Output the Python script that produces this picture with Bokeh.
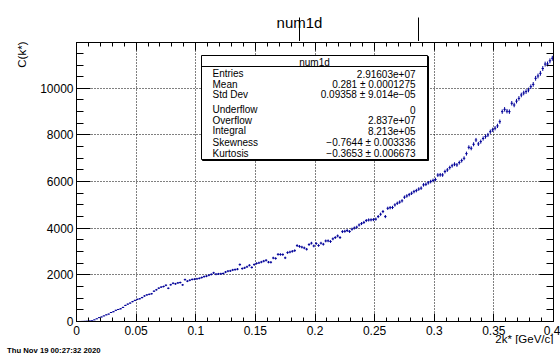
import numpy as np
from bokeh.plotting import figure
from bokeh.layouts import column
from bokeh.models import (ColumnDataSource, Range1d, LinearAxis, FixedTicker, Grid,
                          Label, BoxAnnotation, Arrow, Title)
from bokeh.core.properties import value
from bokeh.embed import file_html
from bokeh.resources import INLINE

# ---------------- data ----------------
x_min, x_max = 0.0, 0.4
n_bins = 200
counts = [
    0, 2, 5, 10, 16, 24, 32, 70, 115, 165,
    195, 240, 285, 318, 385, 420, 480, 515, 545, 605,
    690, 745, 790, 852, 905, 950, 975, 1025, 1095, 1140,
    1165, 1190, 1300, 1360, 1430, 1475, 1500, 1555, 1425, 1575,
    1640, 1615, 1655, 1670, 1570, 1795, 1730, 1770, 1805, 1815,
    1830, 1850, 1885, 1925, 1945, 1985, 2020, 2085, 2030, 2040,
    2045, 2058, 2120, 2160, 2170, 2210, 2225, 2245, 2440, 2270,
    2300, 2345, 2410, 2320, 2440, 2490, 2515, 2550, 2590, 2625,
    2545, 2540, 2725, 2705, 2880, 2875, 2870, 2730, 2955, 2980,
    3010, 3040, 3255, 3220, 3190, 3155, 3100, 3300, 3360, 3240,
    3345, 3260, 3360, 3315, 3455, 3460, 3430, 3545, 3600, 3670,
    3600, 3855, 3870, 3900, 3860, 3960, 4010, 4045, 4140, 4200,
    4250, 4330, 4355, 4360, 4370, 4390, 4500, 4600, 4715, 4500,
    4855, 4880, 4890, 5000, 5070, 5120, 5175, 5330, 5385, 5440,
    5500, 5570, 5615, 5680, 5720, 5860, 5885, 5950, 6000, 6050,
    6090, 6280, 6290, 6285, 6430, 6500, 6600, 6680, 6745, 6715,
    6815, 6900, 7000, 7200, 7470, 7430, 7600, 7785, 7615, 7715,
    7850, 7930, 8000, 8140, 8220, 8290, 8390, 8570, 9000, 9100,
    9020, 9000, 9360, 9285, 9450, 9570, 9715, 9800, 9860, 9930,
    10070, 10170, 10430, 10530, 10645, 10850, 11040, 11045, 11180, 11290,
]
y_top = 11966

x_ticks = [0.0, 0.05, 0.1, 0.15, 0.2, 0.25, 0.3, 0.35, 0.4]
x_tick_labels = ["0", "0.05", "0.1", "0.15", "0.2", "0.25", "0.3", "0.35", "0.4"]
x_minor = [round(i * 0.01, 3) for i in range(41)]
y_ticks = [0, 2000, 4000, 6000, 8000, 10000]
y_tick_labels = ["0", "2000", "4000", "6000", "8000", "10000"]
y_minor = [i * 500 for i in range(24)]

title_text = "num1d"
x_title = "2k* [GeV/c]"
y_title = "C(k*)"
date_text = "Thu Nov 19 00:27:32 2020"

stat_header = "num1d"
stat_names = ["Entries", "Mean", "Std Dev", "Underflow", "Overflow", "Integral",
              "Skewness", "Kurtosis"]
stat_values = ["2.91603e+07", "0.281 \u00b1 0.0001275", "0.09358 \u00b1 9.014e\u221205",
               "0", "2.837e+07", "8.213e+05", "\u22120.7644 \u00b1 0.003336",
               "\u22120.3653 \u00b1 0.006673"]

# ---------------- build ----------------
FONT = "Liberation Sans"
COL = "#000099"
W = 560

edges = np.linspace(x_min, x_max, n_bins + 1)
cnt = np.array(counts, dtype=float)
err = np.sqrt(cnt)
src = ColumnDataSource(dict(lo=edges[:-1], hi=edges[1:], xc=0.5 * (edges[:-1] + edges[1:]),
                            y=cnt, ylo=cnt - err, yhi=cnt + err))

# ---- top strip: title and the two marker lines (page-pixel coordinates) ----
top = figure(width=W, height=41, x_range=Range1d(0, W), y_range=Range1d(41, 0),
             output_backend="svg", toolbar_location=None, x_axis_type=None, y_axis_type=None,
             min_border=0)
top.frame_align = False
top.outline_line_color = None
top.text(x=[299], y=[22], text=[title_text], text_font=value(FONT), text_font_size="15px",
         text_align="center", text_baseline="middle", text_color="black")
top.segment(x0=[299, 418], y0=[17, 17], x1=[299, 418], y1=[41, 41],
            line_color="black", line_width=1)

# ---- main plot ----
p = figure(width=W, height=303, x_range=Range1d(x_min, x_max), y_range=Range1d(0, y_top),
           output_backend="svg", toolbar_location=None,
           x_axis_type=None, y_axis_type=None,
           min_border_left=76, min_border_right=7, min_border_top=1, min_border_bottom=23)
p.frame_align = False
p.background_fill_color = "white"
p.border_fill_color = "white"
p.outline_line_color = "black"


def base_axis(ticks, minor):
    ax = LinearAxis(ticker=FixedTicker(ticks=ticks, minor_ticks=minor))
    ax.axis_line_color = "black"
    ax.major_tick_line_color = "black"
    ax.minor_tick_line_color = "black"
    ax.major_tick_out = 0
    ax.minor_tick_out = 0
    return ax


def label_axis(ticks, minor, labels, tin, minin, standoff):
    ax = base_axis(ticks, minor)
    ax.major_tick_in = tin
    ax.minor_tick_in = minin
    ax.major_label_overrides = {t: l for t, l in zip(ticks, labels)}
    ax.major_label_text_font = FONT
    ax.major_label_text_font_size = "12px"
    ax.major_label_text_color = "black"
    ax.major_label_standoff = standoff
    return ax


def bare_axes(ticks, minor, tin, minin):
    # two unlabeled axes: short ticks at minor positions, long ticks at major positions
    a1 = base_axis([], minor)
    a1.minor_tick_in = minin
    a1.major_label_standoff = 0
    a2 = base_axis([], ticks)
    a2.minor_tick_in = tin
    a2.major_label_standoff = 0
    return a1, a2


p.add_layout(label_axis(x_ticks, x_minor, x_tick_labels, 8, 4, 4), "below")
p.add_layout(label_axis(y_ticks, y_minor, y_tick_labels, 14, 7, 3), "left")
for a in bare_axes(x_ticks, x_minor, 8, 4):
    p.add_layout(a, "above")
for a in bare_axes(y_ticks, y_minor, 14, 7):
    p.add_layout(a, "right")

p.add_layout(Title(text=y_title, align="right", vertical_align="middle", offset=-1,
                   standoff=17, text_font=FONT, text_font_size="11.5px",
                   text_font_style="normal", text_color="black"), "left")
p.add_layout(Title(text=x_title, align="right", vertical_align="middle", offset=0,
                   standoff=-12, text_font=FONT, text_font_size="11.5px",
                   text_font_style="normal", text_color="black"), "below")

for dim, tk in ((0, x_ticks), (1, y_ticks)):
    p.add_layout(Grid(dimension=dim, ticker=FixedTicker(ticks=tk), grid_line_color="black",
                      grid_line_dash="1 2", grid_line_width=1))

p.segment(x0="lo", y0="y", x1="hi", y1="y", source=src, line_color=COL, line_width=1)
p.segment(x0="xc", y0="ylo", x1="xc", y1="yhi", source=src, line_color=COL, line_width=1)


def slabel(text, x, y, size, align="left"):
    p.add_layout(Label(x=x, y=y, x_units="screen", y_units="screen", text=text,
                       text_font=FONT, text_font_size=size, text_align=align,
                       text_baseline="middle", text_color="black"))


# ---------- statistics box (screen units, relative to the frame) ----------
bl, br, bt, bb = 125, 351, 266, 162
p.add_layout(BoxAnnotation(left=bl + 1, right=br + 1, top=bt - 1, bottom=bb - 1,
                           left_units="screen", right_units="screen",
                           top_units="screen", bottom_units="screen",
                           fill_color="black", fill_alpha=1, line_color="black", line_alpha=1))
p.add_layout(BoxAnnotation(left=bl, right=br, top=bt, bottom=bb,
                           left_units="screen", right_units="screen",
                           top_units="screen", bottom_units="screen",
                           fill_color="white", fill_alpha=1, line_color="black",
                           line_width=1, line_alpha=1))
p.add_layout(Arrow(end=None, x_start=bl, y_start=255, x_end=br, y_end=255,
                   start_units="screen", end_units="screen", line_color="black", line_width=1))
slabel(stat_header, (bl + br) / 2, 258.7, "10px", align="center")
row_y = [248, 237, 227, 212, 201.3, 191, 179, 168.5]
for name, val, yy in zip(stat_names, stat_values, row_y):
    slabel(name, 136, yy, "10px", align="left")
    slabel(val, 339, yy, "10px", align="right")

# ---- bottom strip: date (page-pixel coordinates) ----
bot = figure(width=W, height=12, x_range=Range1d(0, W), y_range=Range1d(356, 344),
             output_backend="svg", toolbar_location=None, x_axis_type=None, y_axis_type=None,
             min_border=0)
bot.frame_align = False
bot.outline_line_color = None
bot.text(x=[6.5], y=[349.5], text=[date_text], text_font=value(FONT), text_font_size="7.7px",
         text_font_style="bold", text_align="left", text_baseline="middle", text_color="black")

layout = column(top, p, bot, spacing=0)
open("out.html", "w").write(file_html(layout, INLINE))
